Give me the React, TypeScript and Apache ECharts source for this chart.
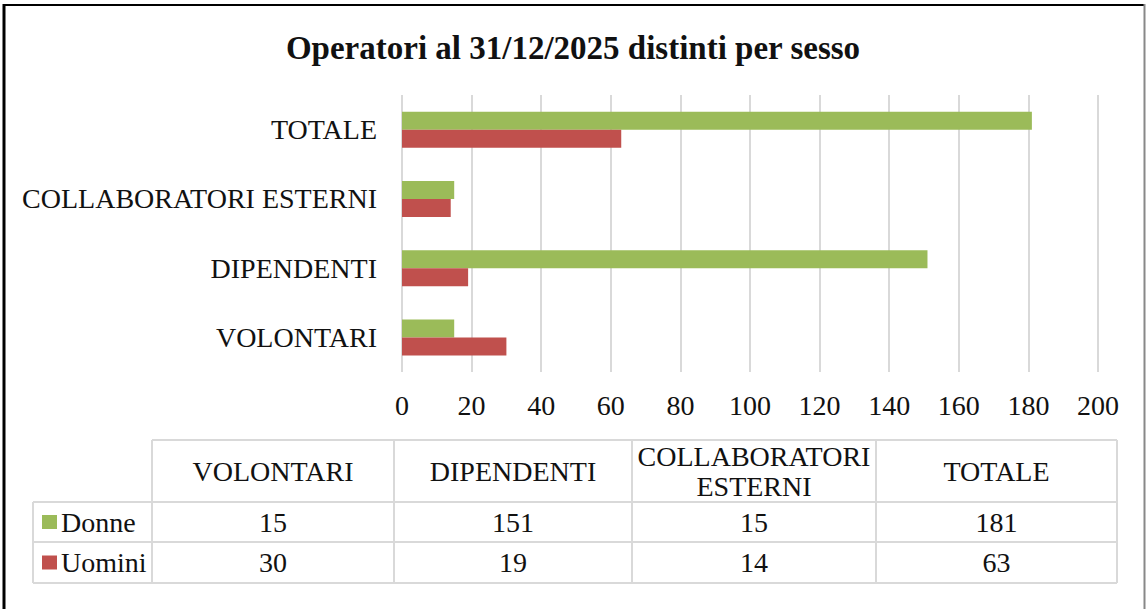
import React, { useEffect, useRef } from "react";
import * as echarts from "echarts";

const title = "Operatori al 31/12/2025 distinti per sesso";
const categories = ["VOLONTARI", "DIPENDENTI", "COLLABORATORI ESTERNI", "TOTALE"];
const seriesNames = ["Donne", "Uomini"];
const donne = [15, 151, 15, 181];
const uomini = [30, 19, 14, 63];
const xMin = 0;
const xMax = 200;
const xInterval = 20;

const GREEN = "#9BBB59";
const RED = "#C0504D";
const FONT = "Liberation Serif, serif";
const TEXT = "#111111";
const GRIDC = "#D9D9D9";

export default function App() {
  const ref = useRef<HTMLDivElement>(null);

  useEffect(() => {
    document.body.style.margin = "0";
    const chart = echarts.init(ref.current!, null, { renderer: "svg" });

    const colX = [152, 394, 632, 876, 1117];
    const rowY = [440, 502, 542, 583];
    const tableLeft = 33;
    const fs = 28;

    const g: any[] = [];
    // outer frame
    g.push({ type: "line", shape: { x1: 3, y1: 5, x2: 1145, y2: 5 }, style: { stroke: "#000", lineWidth: 2 } });
    g.push({ type: "line", shape: { x1: 4, y1: 4, x2: 4, y2: 640 }, style: { stroke: "#000", lineWidth: 3 } });
    g.push({ type: "line", shape: { x1: 1144.5, y1: 4, x2: 1144.5, y2: 640 }, style: { stroke: "#888", lineWidth: 2 } });

    // table lines
    const ln = (x1: number, y1: number, x2: number, y2: number) =>
      g.push({ type: "line", shape: { x1, y1, x2, y2 }, style: { stroke: GRIDC, lineWidth: 2 } });
    ln(colX[0], rowY[0], colX[4], rowY[0]);
    for (let r = 1; r < rowY.length; r++) ln(tableLeft, rowY[r], colX[4], rowY[r]);
    for (let c = 0; c < colX.length; c++) ln(colX[c], rowY[0], colX[c], rowY[3]);
    ln(tableLeft, rowY[1], tableLeft, rowY[3]);

    const txt = (x: number, y: number, text: string, align: string, lineHeight?: number) =>
      g.push({
        type: "text",
        x,
        y,
        style: {
          text,
          fontFamily: FONT,
          fontSize: fs,
          fill: TEXT,
          align,
          verticalAlign: "middle",
          lineHeight: lineHeight || fs * 1.2,
        },
      });

    // header texts
    categories.forEach((cat, i) => {
      const label = cat.length > 14 ? cat.replace(" ", "\n") : cat;
      txt((colX[i] + colX[i + 1]) / 2, (rowY[0] + rowY[1]) / 2, label, "center", 30);
    });

    const rows = [
      { name: seriesNames[0], color: GREEN, values: donne },
      { name: seriesNames[1], color: RED, values: uomini },
    ];
    rows.forEach((row, r) => {
      const cy = (rowY[r + 1] + rowY[r + 2]) / 2;
      g.push({ type: "rect", shape: { x: 42, y: cy - 7, width: 15, height: 14 }, style: { fill: row.color } });
      txt(61, cy, row.name, "left");
      row.values.forEach((v, i) => {
        txt((colX[i] + colX[i + 1]) / 2, cy, String(v), "center");
      });
    });

    chart.setOption({
      animation: false,
      backgroundColor: "#fff",
      title: {
        text: title,
        left: "center",
        top: 26,
        textStyle: { fontFamily: FONT, fontSize: 33, fontWeight: "bold", color: TEXT },
      },
      grid: { left: 402, right: 48, top: 95, bottom: 237, containLabel: false },
      xAxis: {
        type: "value",
        min: xMin,
        max: xMax,
        interval: xInterval,
        axisLine: { show: false },
        axisTick: { show: false },
        splitLine: { show: true, lineStyle: { color: GRIDC, width: 2 } },
        axisLabel: { fontFamily: FONT, fontSize: fs, color: TEXT, margin: 19 },
      },
      yAxis: {
        type: "category",
        data: categories,
        axisLine: { show: false },
        axisTick: { show: false },
        axisLabel: { fontFamily: FONT, fontSize: fs, color: TEXT, margin: 25 },
      },
      series: [
        {
          name: seriesNames[0],
          type: "bar",
          data: donne,
          barWidth: 18,
          barGap: "0%",
          itemStyle: { color: GREEN },
        },
        {
          name: seriesNames[1],
          type: "bar",
          data: uomini,
          barWidth: 18,
          barGap: "0%",
          itemStyle: { color: RED },
        },
      ],
      graphic: g,
    });

    return () => chart.dispose();
  }, []);

  return <div ref={ref} style={{ width: 1146, height: 609 }} />;
}
